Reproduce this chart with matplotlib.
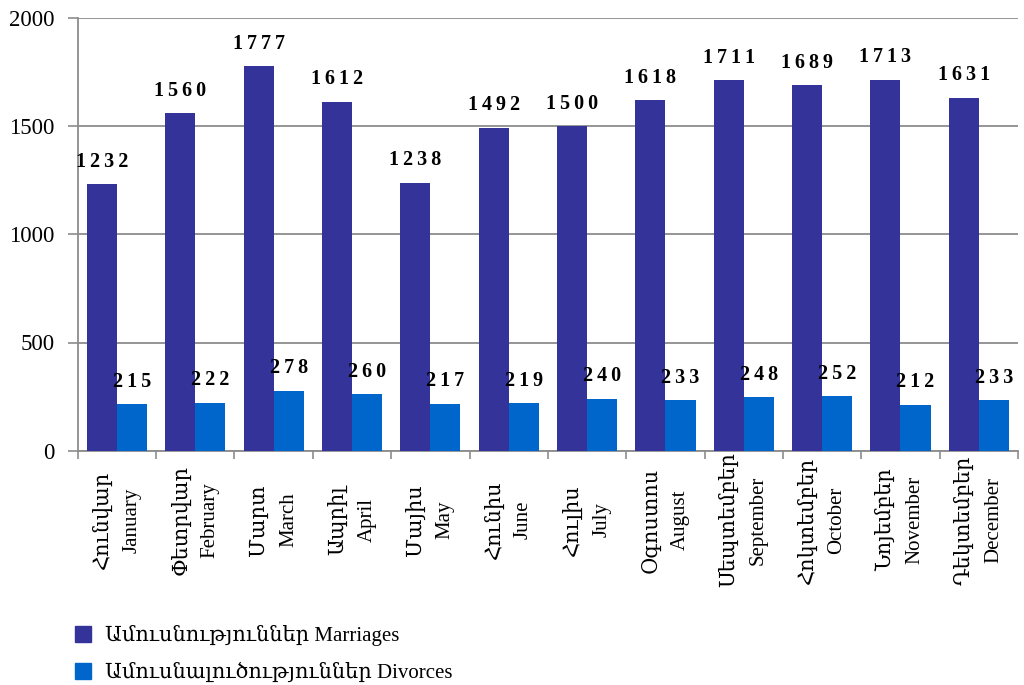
import numpy as np
import matplotlib
matplotlib.use("Agg")
import matplotlib.pyplot as plt
from matplotlib.patches import Patch

# տվյալներ
months_hy = ['Հունվար', 'Փետրվար', 'Մարտ', 'Ապրիլ', 'Մայիս', 'Հունիս',
             'Հուլիս', 'Օգոստոս', 'Սեպտեմբեր', 'Հոկտեմբեր', 'Նոյեմբեր', 'Դեկտեմբեր']
months_en = ['January', 'February', 'March', 'April', 'May', 'June',
             'July', 'August', 'September', 'October', 'November', 'December']
marriages = [1232, 1560, 1777, 1612, 1238, 1492, 1500, 1618, 1711, 1689, 1713, 1631]
divorces = [215, 222, 278, 260, 217, 219, 240, 233, 248, 252, 212, 233]
yticks = [0, 500, 1000, 1500, 2000]
legend_labels = ['Ամուսնություններ Marriages', 'Ամուսնալուծություններ Divorces']

FAM = ['Liberation Serif', 'DejaVu Serif']
plt.rcParams['font.family'] = FAM

c_mar = '#333399'
c_div = '#0066CC'
grid_c = '#8c8c8c'


def spaced(v):
    return '\u2009'.join(str(v))


def main():
    fig = plt.figure(figsize=(10.24, 6.85), dpi=100)
    ax = fig.add_axes([0.076, 0.342, 0.918, 0.632])

    x = np.arange(len(marriages))
    w = 0.385
    b1 = ax.bar(x - w / 2, marriages, w, color=c_mar, zorder=3)
    b2 = ax.bar(x + w / 2, divorces, w, color=c_div, zorder=3)

    for bars, vals in ((b1, marriages), (b2, divorces)):
        for r, v in zip(bars, vals):
            ax.annotate(spaced(v), (r.get_x() + r.get_width() / 2, v),
                        xytext=(0, 9), textcoords='offset points',
                        ha='center', va='bottom', fontsize=14.5,
                        fontweight='bold', family=FAM)

    ax.set_xlim(-0.5, len(x) - 0.5)
    ax.set_ylim(0, 2000)
    ax.set_yticks(yticks)
    ax.set_yticklabels([str(t) for t in yticks], fontsize=16.5, family=FAM)
    ax.tick_params(axis='y', length=7, color=grid_c, width=1.2, pad=10)
    ax.yaxis.grid(True, color=grid_c, linewidth=1.3, zorder=0)

    # x ticks between groups, labels drawn as text
    ax.set_xticks(np.arange(-0.5, len(x), 1.0))
    ax.set_xticklabels([])
    ax.tick_params(axis='x', length=6, color=grid_c, width=1.2)
    xt = ax.get_xaxis_transform()
    for i in x:
        ax.text(i - 0.18, -0.16, months_hy[i], transform=xt, rotation=90,
                ha='center', va='center', fontsize=15, family=FAM)
        ax.text(i + 0.19, -0.16, months_en[i], transform=xt, rotation=90,
                ha='center', va='center', fontsize=15, family=FAM)

    for s in ('top', 'right'):
        ax.spines[s].set_visible(False)
    for s in ('left', 'bottom'):
        ax.spines[s].set_color(grid_c)
        ax.spines[s].set_linewidth(1.3)

    handles = [Patch(color=c_mar), Patch(color=c_div)]
    fig.legend(handles, legend_labels, loc='lower left',
               bbox_to_anchor=(0.055, -0.025), frameon=False, fontsize=15,
               handlelength=0.75, handleheight=0.75, handletextpad=0.7,
               labelspacing=0.8)

    fig.savefig('out.png', dpi=100)


if __name__ == "__main__":
    main()
